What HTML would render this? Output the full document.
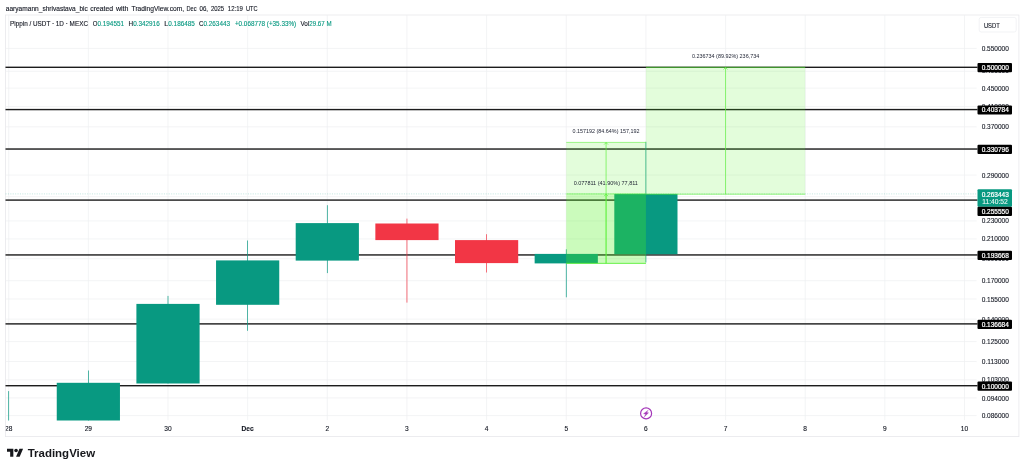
<!DOCTYPE html><html><head><meta charset="utf-8"><title>Pippin / USDT chart</title>
<style>html,body{margin:0;padding:0;background:#fff;overflow:hidden}svg{display:block}text{font-family:"Liberation Sans",sans-serif}.k{stroke:#131722;stroke-width:0.12px}</style></head><body>
<svg width="1024" height="470" viewBox="0 0 1024 470">
<rect width="1024" height="470" fill="#fff"/>
<text y="10.7" font-size="7.1" fill="#131722" class="k"><tspan x="5.8" textLength="82.0" lengthAdjust="spacingAndGlyphs">aaryamann_shrivastava_bic</tspan> <tspan x="90.2" textLength="23.0" lengthAdjust="spacingAndGlyphs">created</tspan> <tspan x="115.9" textLength="12.6" lengthAdjust="spacingAndGlyphs">with</tspan> <tspan x="131.6" textLength="52.5" lengthAdjust="spacingAndGlyphs">TradingView.com,</tspan> <tspan x="186.5" textLength="10.1" lengthAdjust="spacingAndGlyphs">Dec</tspan> <tspan x="199.5" textLength="8.5" lengthAdjust="spacingAndGlyphs">06,</tspan> <tspan x="210.9" textLength="13.2" lengthAdjust="spacingAndGlyphs">2025</tspan> <tspan x="227.8" textLength="15.1" lengthAdjust="spacingAndGlyphs">12:19</tspan> <tspan x="246" textLength="11.6" lengthAdjust="spacingAndGlyphs">UTC</tspan></text>
<rect x="5.5" y="15.0" width="1013.4" height="421.6" fill="none" stroke="#e8e8ec" stroke-width="0.8"/>
<line x1="5.5" x2="976.6" y1="48.44" y2="48.44" stroke="#eeeff1" stroke-width="0.7"/>
<line x1="5.5" x2="976.6" y1="71.30" y2="71.30" stroke="#eeeff1" stroke-width="0.7"/>
<line x1="5.5" x2="976.6" y1="88.14" y2="88.14" stroke="#eeeff1" stroke-width="0.7"/>
<line x1="5.5" x2="976.6" y1="106.56" y2="106.56" stroke="#eeeff1" stroke-width="0.7"/>
<line x1="5.5" x2="976.6" y1="126.87" y2="126.87" stroke="#eeeff1" stroke-width="0.7"/>
<line x1="5.5" x2="976.6" y1="149.51" y2="149.51" stroke="#eeeff1" stroke-width="0.7"/>
<line x1="5.5" x2="976.6" y1="175.07" y2="175.07" stroke="#eeeff1" stroke-width="0.7"/>
<line x1="5.5" x2="976.6" y1="196.67" y2="196.67" stroke="#eeeff1" stroke-width="0.7"/>
<line x1="5.5" x2="976.6" y1="220.93" y2="220.93" stroke="#eeeff1" stroke-width="0.7"/>
<line x1="5.5" x2="976.6" y1="238.93" y2="238.93" stroke="#eeeff1" stroke-width="0.7"/>
<line x1="5.5" x2="976.6" y1="258.73" y2="258.73" stroke="#eeeff1" stroke-width="0.7"/>
<line x1="5.5" x2="976.6" y1="280.73" y2="280.73" stroke="#eeeff1" stroke-width="0.7"/>
<line x1="5.5" x2="976.6" y1="299.01" y2="299.01" stroke="#eeeff1" stroke-width="0.7"/>
<line x1="5.5" x2="976.6" y1="319.14" y2="319.14" stroke="#eeeff1" stroke-width="0.7"/>
<line x1="5.5" x2="976.6" y1="341.56" y2="341.56" stroke="#eeeff1" stroke-width="0.7"/>
<line x1="5.5" x2="976.6" y1="361.53" y2="361.53" stroke="#eeeff1" stroke-width="0.7"/>
<line x1="5.5" x2="976.6" y1="379.86" y2="379.86" stroke="#eeeff1" stroke-width="0.7"/>
<line x1="5.5" x2="976.6" y1="397.95" y2="397.95" stroke="#eeeff1" stroke-width="0.7"/>
<line x1="5.5" x2="976.6" y1="415.55" y2="415.55" stroke="#eeeff1" stroke-width="0.7"/>
<line x1="8.70" x2="8.70" y1="15.0" y2="420.2" stroke="#eeeff1" stroke-width="0.7"/>
<line x1="88.35" x2="88.35" y1="15.0" y2="420.2" stroke="#eeeff1" stroke-width="0.7"/>
<line x1="168.00" x2="168.00" y1="15.0" y2="420.2" stroke="#eeeff1" stroke-width="0.7"/>
<line x1="247.65" x2="247.65" y1="15.0" y2="420.2" stroke="#eeeff1" stroke-width="0.7"/>
<line x1="327.30" x2="327.30" y1="15.0" y2="420.2" stroke="#eeeff1" stroke-width="0.7"/>
<line x1="406.95" x2="406.95" y1="15.0" y2="420.2" stroke="#eeeff1" stroke-width="0.7"/>
<line x1="486.60" x2="486.60" y1="15.0" y2="420.2" stroke="#eeeff1" stroke-width="0.7"/>
<line x1="566.25" x2="566.25" y1="15.0" y2="420.2" stroke="#eeeff1" stroke-width="0.7"/>
<line x1="645.90" x2="645.90" y1="15.0" y2="420.2" stroke="#eeeff1" stroke-width="0.7"/>
<line x1="725.55" x2="725.55" y1="15.0" y2="420.2" stroke="#eeeff1" stroke-width="0.7"/>
<line x1="805.20" x2="805.20" y1="15.0" y2="420.2" stroke="#eeeff1" stroke-width="0.7"/>
<line x1="884.85" x2="884.85" y1="15.0" y2="420.2" stroke="#eeeff1" stroke-width="0.7"/>
<line x1="964.50" x2="964.50" y1="15.0" y2="420.2" stroke="#eeeff1" stroke-width="0.7"/>
<rect x="5.5" y="66.60" width="972.0" height="1.4" fill="#1c1c1c"/>
<rect x="5.5" y="108.88" width="972.0" height="1.4" fill="#1c1c1c"/>
<rect x="5.5" y="148.33" width="972.0" height="1.4" fill="#1c1c1c"/>
<rect x="5.5" y="199.39" width="972.0" height="1.4" fill="#1c1c1c"/>
<rect x="5.5" y="254.24" width="972.0" height="1.4" fill="#1c1c1c"/>
<rect x="5.5" y="323.19" width="972.0" height="1.4" fill="#1c1c1c"/>
<rect x="5.5" y="385.01" width="972.0" height="1.4" fill="#1c1c1c"/>
<line x1="5.5" x2="976.6" y1="193.9" y2="193.9" stroke="#089981" stroke-opacity="0.33" stroke-width="0.7" stroke-dasharray="1.1 1.3"/>
<rect x="8.35" y="391.1" width="0.7" height="29.40" fill="#089981"/>
<rect x="88.00" y="370.5" width="0.7" height="50.00" fill="#089981"/>
<rect x="56.75" y="382.8" width="63.2" height="37.70" fill="#089981"/>
<rect x="167.65" y="295.9" width="0.7" height="87.60" fill="#089981"/>
<rect x="136.40" y="303.9" width="63.2" height="79.60" fill="#089981"/>
<rect x="247.30" y="240.5" width="0.7" height="90.30" fill="#089981"/>
<rect x="216.05" y="260.4" width="63.2" height="44.40" fill="#089981"/>
<rect x="326.95" y="205.2" width="0.7" height="67.90" fill="#089981"/>
<rect x="295.70" y="223.1" width="63.2" height="37.50" fill="#089981"/>
<rect x="406.60" y="218.6" width="0.7" height="84.00" fill="#f23645"/>
<rect x="375.35" y="223.5" width="63.2" height="16.60" fill="#f23645"/>
<rect x="486.25" y="234.2" width="0.7" height="38.30" fill="#f23645"/>
<rect x="455.00" y="240.1" width="63.2" height="23.00" fill="#f23645"/>
<rect x="565.90" y="249.3" width="0.7" height="48.00" fill="#089981"/>
<rect x="534.65" y="253.9" width="63.2" height="9.50" fill="#089981"/>
<rect x="645.55" y="141.8" width="0.7" height="120.60" fill="#089981"/>
<rect x="614.30" y="193.9" width="63.2" height="60.30" fill="#089981"/>
<rect x="566.25" y="142.40" width="79.65" height="121.00" fill="#50f020" fill-opacity="0.16"/>
<path d="M566.25 142.40H645.90M566.25 263.40H645.90" fill="none" stroke="#5cf03c" stroke-opacity="0.9" stroke-width="0.65"/>
<path d="M606.08 263.40V142.40M604.08 144.60L606.08 142.60L608.08 144.60" fill="none" stroke="#5cf03c" stroke-width="0.75" stroke-opacity="0.9"/>
<rect x="566.25" y="193.90" width="79.65" height="69.50" fill="#50f020" fill-opacity="0.16"/>
<path d="M566.25 193.90H645.90M566.25 263.40H645.90" fill="none" stroke="#5cf03c" stroke-opacity="0.9" stroke-width="0.65"/>
<path d="M606.08 263.40V193.90M604.08 196.10L606.08 194.10L608.08 196.10" fill="none" stroke="#5cf03c" stroke-width="0.75" stroke-opacity="0.9"/>
<rect x="645.90" y="67.30" width="159.30" height="126.90" fill="#50f020" fill-opacity="0.16"/>
<path d="M645.90 67.30H805.20M645.90 194.20H805.20" fill="none" stroke="#5cf03c" stroke-opacity="1" stroke-width="0.65"/>
<path d="M725.55 194.20V67.30M723.55 69.50L725.55 67.50L727.55 69.50" fill="none" stroke="#5cf03c" stroke-width="0.75" stroke-opacity="0.9"/>
<text x="692.00" y="57.80" font-size="5.5" fill="#1c2030" textLength="67.2" lengthAdjust="spacingAndGlyphs">0.236734 (89.92%) 236,734</text>
<text x="572.55" y="132.80" font-size="5.5" fill="#1c2030" textLength="66.9" lengthAdjust="spacingAndGlyphs">0.157192 (84.64%) 157,192</text>
<text x="573.65" y="184.90" font-size="5.5" fill="#1c2030" textLength="64.3" lengthAdjust="spacingAndGlyphs">0.077811 (41.90%) 77,811</text>
<text x="10" y="25.6" font-size="6.9" fill="#131722" stroke="#131722" stroke-width="0.12" textLength="78.0" lengthAdjust="spacingAndGlyphs">Pippin / USDT · 1D · MEXC</text>
<text x="92.8" y="25.6" font-size="6.9" fill="#131722" stroke="#131722" stroke-width="0.12" textLength="4.7" lengthAdjust="spacingAndGlyphs">O</text>
<text x="97.5" y="25.6" font-size="6.9" fill="#089981" stroke="#089981" stroke-width="0.12" textLength="26.5" lengthAdjust="spacingAndGlyphs">0.194551</text>
<text x="128.6" y="25.6" font-size="6.9" fill="#131722" stroke="#131722" stroke-width="0.12" textLength="4.6" lengthAdjust="spacingAndGlyphs">H</text>
<text x="133.2" y="25.6" font-size="6.9" fill="#089981" stroke="#089981" stroke-width="0.12" textLength="26.5" lengthAdjust="spacingAndGlyphs">0.342916</text>
<text x="164.3" y="25.6" font-size="6.9" fill="#131722" stroke="#131722" stroke-width="0.12" textLength="4.0" lengthAdjust="spacingAndGlyphs">L</text>
<text x="168.3" y="25.6" font-size="6.9" fill="#089981" stroke="#089981" stroke-width="0.12" textLength="26.5" lengthAdjust="spacingAndGlyphs">0.186485</text>
<text x="199" y="25.6" font-size="6.9" fill="#131722" stroke="#131722" stroke-width="0.12" textLength="4.5" lengthAdjust="spacingAndGlyphs">C</text>
<text x="203.5" y="25.6" font-size="6.9" fill="#089981" stroke="#089981" stroke-width="0.12" textLength="26.5" lengthAdjust="spacingAndGlyphs">0.263443</text>
<text x="234.9" y="25.6" font-size="6.9" fill="#089981" stroke="#089981" stroke-width="0.12" textLength="61.3" lengthAdjust="spacingAndGlyphs">+0.068778 (+35.33%)</text>
<text x="300.5" y="25.6" font-size="6.9" fill="#131722" stroke="#131722" stroke-width="0.12" textLength="8.8" lengthAdjust="spacingAndGlyphs">Vol</text>
<text x="309.3" y="25.6" font-size="6.9" fill="#089981" stroke="#089981" stroke-width="0.12" textLength="22.3" lengthAdjust="spacingAndGlyphs">29.67 M</text>
<rect x="979.2" y="17.4" width="37" height="14.6" rx="2" fill="#fff" stroke="#eceef1" stroke-width="0.7"/>
<text x="983.9" y="27.6" font-size="6.8" fill="#131722" class="k" textLength="15.9" lengthAdjust="spacingAndGlyphs">USDT</text>
<text x="981.7" y="50.99" font-size="6.5" fill="#131722" stroke="#131722" stroke-width="0.1" font-weight="normal" textLength="27.2" lengthAdjust="spacingAndGlyphs">0.550000</text>
<text x="981.7" y="72.85" font-size="6.5" fill="#131722" stroke="#131722" stroke-width="0.1" font-weight="normal" textLength="27.2" lengthAdjust="spacingAndGlyphs">0.490000</text>
<text x="981.7" y="90.69" font-size="6.5" fill="#131722" stroke="#131722" stroke-width="0.1" font-weight="normal" textLength="27.2" lengthAdjust="spacingAndGlyphs">0.450000</text>
<text x="981.7" y="109.11" font-size="6.5" fill="#131722" stroke="#131722" stroke-width="0.1" font-weight="normal" textLength="27.2" lengthAdjust="spacingAndGlyphs">0.410000</text>
<text x="981.7" y="129.42" font-size="6.5" fill="#131722" stroke="#131722" stroke-width="0.1" font-weight="normal" textLength="27.2" lengthAdjust="spacingAndGlyphs">0.370000</text>
<text x="981.7" y="177.62" font-size="6.5" fill="#131722" stroke="#131722" stroke-width="0.1" font-weight="normal" textLength="27.2" lengthAdjust="spacingAndGlyphs">0.290000</text>
<text x="981.7" y="223.48" font-size="6.5" fill="#131722" stroke="#131722" stroke-width="0.1" font-weight="normal" textLength="27.2" lengthAdjust="spacingAndGlyphs">0.230000</text>
<text x="981.7" y="241.48" font-size="6.5" fill="#131722" stroke="#131722" stroke-width="0.1" font-weight="normal" textLength="27.2" lengthAdjust="spacingAndGlyphs">0.210000</text>
<text x="981.7" y="261.28" font-size="6.5" fill="#131722" stroke="#131722" stroke-width="0.1" font-weight="normal" textLength="27.2" lengthAdjust="spacingAndGlyphs">0.190000</text>
<text x="981.7" y="283.28" font-size="6.5" fill="#131722" stroke="#131722" stroke-width="0.1" font-weight="normal" textLength="27.2" lengthAdjust="spacingAndGlyphs">0.170000</text>
<text x="981.7" y="301.56" font-size="6.5" fill="#131722" stroke="#131722" stroke-width="0.1" font-weight="normal" textLength="27.2" lengthAdjust="spacingAndGlyphs">0.155000</text>
<text x="981.7" y="321.69" font-size="6.5" fill="#131722" stroke="#131722" stroke-width="0.1" font-weight="normal" textLength="27.2" lengthAdjust="spacingAndGlyphs">0.140000</text>
<text x="981.7" y="344.11" font-size="6.5" fill="#131722" stroke="#131722" stroke-width="0.1" font-weight="normal" textLength="27.2" lengthAdjust="spacingAndGlyphs">0.125000</text>
<text x="981.7" y="364.08" font-size="6.5" fill="#131722" stroke="#131722" stroke-width="0.1" font-weight="normal" textLength="27.2" lengthAdjust="spacingAndGlyphs">0.113000</text>
<text x="981.7" y="382.41" font-size="6.5" fill="#131722" stroke="#131722" stroke-width="0.1" font-weight="normal" textLength="27.2" lengthAdjust="spacingAndGlyphs">0.103000</text>
<text x="981.7" y="400.50" font-size="6.5" fill="#131722" stroke="#131722" stroke-width="0.1" font-weight="normal" textLength="27.2" lengthAdjust="spacingAndGlyphs">0.094000</text>
<text x="981.7" y="418.10" font-size="6.5" fill="#131722" stroke="#131722" stroke-width="0.1" font-weight="normal" textLength="27.2" lengthAdjust="spacingAndGlyphs">0.086000</text>
<rect x="977.5" y="63.10" width="34.5" height="9.2" rx="1" fill="#000"/>
<text x="981.7" y="70.20" font-size="6.5" fill="#fff" stroke="#fff" stroke-width="0.22" font-weight="normal" textLength="27.2" lengthAdjust="spacingAndGlyphs">0.500000</text>
<rect x="977.5" y="105.38" width="34.5" height="9.2" rx="1" fill="#000"/>
<text x="981.7" y="112.48" font-size="6.5" fill="#fff" stroke="#fff" stroke-width="0.22" font-weight="normal" textLength="27.2" lengthAdjust="spacingAndGlyphs">0.403784</text>
<rect x="977.5" y="144.83" width="34.5" height="9.2" rx="1" fill="#000"/>
<text x="981.7" y="151.93" font-size="6.5" fill="#fff" stroke="#fff" stroke-width="0.22" font-weight="normal" textLength="27.2" lengthAdjust="spacingAndGlyphs">0.330796</text>
<rect x="977.5" y="250.74" width="34.5" height="9.2" rx="1" fill="#000"/>
<text x="981.7" y="257.84" font-size="6.5" fill="#fff" stroke="#fff" stroke-width="0.22" font-weight="normal" textLength="27.2" lengthAdjust="spacingAndGlyphs">0.193668</text>
<rect x="977.5" y="319.69" width="34.5" height="9.2" rx="1" fill="#000"/>
<text x="981.7" y="326.79" font-size="6.5" fill="#fff" stroke="#fff" stroke-width="0.22" font-weight="normal" textLength="27.2" lengthAdjust="spacingAndGlyphs">0.136684</text>
<rect x="977.5" y="381.51" width="34.5" height="9.2" rx="1" fill="#000"/>
<text x="981.7" y="388.61" font-size="6.5" fill="#fff" stroke="#fff" stroke-width="0.22" font-weight="normal" textLength="27.2" lengthAdjust="spacingAndGlyphs">0.100000</text>
<rect x="977.5" y="189.2" width="34.5" height="17.6" rx="1" fill="#089981"/>
<text x="981.7" y="196.65" font-size="6.5" fill="#fff" stroke="#fff" stroke-width="0.22" font-weight="normal" textLength="27.2" lengthAdjust="spacingAndGlyphs">0.263443</text>
<text x="982.3" y="204.0" font-size="6.5" fill="#fff" stroke="#fff" stroke-width="0.15" fill-opacity="0.85" stroke-opacity="0.85" textLength="25.5" lengthAdjust="spacingAndGlyphs">11:40:52</text>
<rect x="977.5" y="206.80" width="34.5" height="9.2" rx="1" fill="#000"/>
<text x="981.7" y="213.90" font-size="6.5" fill="#fff" stroke="#fff" stroke-width="0.22" font-weight="normal" textLength="27.2" lengthAdjust="spacingAndGlyphs">0.255550</text>
<clipPath id="tc"><rect x="5.8" y="421" width="1013.4" height="15"/></clipPath><g clip-path="url(#tc)">
<text x="8.70" y="430.7" font-size="6.6" fill="#131722" class="k" text-anchor="middle" font-weight="normal">28</text>
<text x="88.35" y="430.7" font-size="6.6" fill="#131722" class="k" text-anchor="middle" font-weight="normal">29</text>
<text x="168.00" y="430.7" font-size="6.6" fill="#131722" class="k" text-anchor="middle" font-weight="normal">30</text>
<text x="247.65" y="430.7" font-size="6.6" fill="#131722" class="k" text-anchor="middle" font-weight="bold">Dec</text>
<text x="327.30" y="430.7" font-size="6.6" fill="#131722" class="k" text-anchor="middle" font-weight="normal">2</text>
<text x="406.95" y="430.7" font-size="6.6" fill="#131722" class="k" text-anchor="middle" font-weight="normal">3</text>
<text x="486.60" y="430.7" font-size="6.6" fill="#131722" class="k" text-anchor="middle" font-weight="normal">4</text>
<text x="566.25" y="430.7" font-size="6.6" fill="#131722" class="k" text-anchor="middle" font-weight="normal">5</text>
<text x="645.90" y="430.7" font-size="6.6" fill="#131722" class="k" text-anchor="middle" font-weight="normal">6</text>
<text x="725.55" y="430.7" font-size="6.6" fill="#131722" class="k" text-anchor="middle" font-weight="normal">7</text>
<text x="805.20" y="430.7" font-size="6.6" fill="#131722" class="k" text-anchor="middle" font-weight="normal">8</text>
<text x="884.85" y="430.7" font-size="6.6" fill="#131722" class="k" text-anchor="middle" font-weight="normal">9</text>
<text x="964.50" y="430.7" font-size="6.6" fill="#131722" class="k" text-anchor="middle" font-weight="normal">10</text>
</g>
<g transform="translate(646.1 413.4)"><circle r="5.5" fill="#fff" stroke="#a437b9" stroke-width="1.2"/><path d="M2.1 -3.2L-2.6 0.3L-0.5 0.7L-1.9 3.7L2.5 -0.6L0.5 -1Z" fill="#a437b9" stroke="#a437b9" stroke-width="0.3" stroke-linejoin="round"/></g>
<g transform="translate(7.0 447.0) scale(0.453 0.44)" fill="#17181c"><path d="M14 22H7V11H0V4h14v18zM28 22h-8l7.5-18h8L28 22z"/><circle cx="20" cy="8" r="4"/></g>
<text x="27.7" y="456.8" font-size="11.3" font-weight="bold" fill="#17181c" textLength="67.4" lengthAdjust="spacingAndGlyphs">TradingView</text>
</svg></body></html>
